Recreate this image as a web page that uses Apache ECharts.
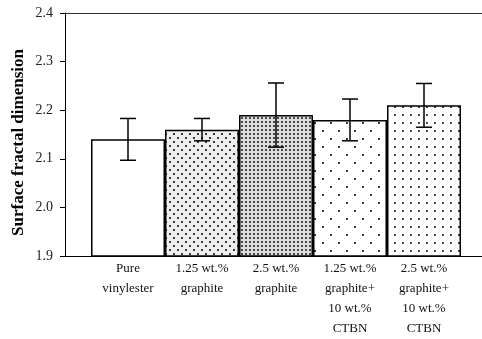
<!DOCTYPE html>
<html>
<head>
<meta charset="utf-8">
<script src="https://cdn.jsdelivr.net/npm/echarts@6/dist/echarts.min.js"></script>
<style>
  html, body { margin: 0; padding: 0; background: #fff; }
  #chart { width: 482px; height: 339px; }
</style>
</head>
<body>
<div id="chart"></div>
<script>
// Sample groups (multi-line category labels)
const categories = [
  'Pure\nvinylester',
  '1.25 wt.%\ngraphite',
  '2.5 wt.%\ngraphite',
  '1.25 wt.%\ngraphite+\n10 wt.%\nCTBN',
  '2.5 wt.%\ngraphite+\n10 wt.%\nCTBN'
];
// Mean surface fractal dimension and standard deviation
const fractalDim = [2.14, 2.16, 2.19, 2.18, 2.21];
const stdDev = [0.043, 0.023, 0.066, 0.043, 0.045];
const yTicks = [1.9, 2.0, 2.1, 2.2, 2.3, 2.4];

// Dot-fill patterns for each bar
function dotPattern(w, h, dots, size, color, bg) {
  const c = document.createElement('canvas');
  c.width = w; c.height = h;
  const g = c.getContext('2d');
  g.fillStyle = bg;
  g.fillRect(0, 0, w, h);
  g.fillStyle = color;
  dots.forEach(function (d) { g.fillRect(d[0], d[1], size, size); });
  return { image: c, repeat: 'repeat' };
}
const fills = [
  '#ffffff',
  dotPattern(8, 8, [[1, 1], [5, 5]], 2, '#3a3a3a', '#eeeeee'),
  dotPattern(4, 4, [[1, 1]], 2, '#4a4a4a', '#dddddd'),
  dotPattern(16, 16, [[2, 2], [10, 10]], 2, '#3a3a3a', '#ffffff'),
  dotPattern(8, 8, [[2, 2]], 2, '#4a4a4a', '#ffffff')
];

const font = '"Liberation Serif", "Times New Roman", serif';
const chart = echarts.init(document.getElementById('chart'), null, { renderer: 'canvas' });

chart.setOption({
  animation: false,
  backgroundColor: '#ffffff',
  grid: [
    { left: 65, right: 0, top: 13, bottom: 83 },
    { left: 91, width: 370, top: 13, bottom: 83 }
  ],
  xAxis: [
    { gridIndex: 0, type: 'value', min: 0, max: 1, position: 'bottom',
      axisLine: { show: true, lineStyle: { color: '#000', width: 1 } },
      axisTick: { show: false }, axisLabel: { show: false }, splitLine: { show: false } },
    { gridIndex: 0, type: 'value', min: 0, max: 1, position: 'top',
      axisLine: { show: true, lineStyle: { color: '#333', width: 1 } },
      axisTick: { show: false }, axisLabel: { show: false }, splitLine: { show: false } },
    { gridIndex: 1, type: 'category', data: categories,
      axisLine: { show: false }, axisTick: { show: false },
      axisLabel: { interval: 0, margin: 3, color: '#111', fontFamily: font, fontSize: 13, lineHeight: 20 } }
  ],
  yAxis: [
    { gridIndex: 0, type: 'value', min: yTicks[0], max: yTicks[yTicks.length - 1], interval: 0.1,
      axisLine: { show: true, lineStyle: { color: '#000', width: 1 } },
      axisTick: { show: true, inside: false, length: 5, lineStyle: { color: '#000' } },
      axisLabel: { margin: 12, color: '#222', fontFamily: font, fontSize: 14,
        formatter: function (v) { return v.toFixed(1); } },
      splitLine: { show: false } },
    // Value axis of the bar grid: carries only the axis title
    { gridIndex: 1, type: 'value', min: yTicks[0], max: yTicks[yTicks.length - 1],
      name: 'Surface fractal dimension', nameLocation: 'middle', nameRotate: 90, nameGap: 64,
      nameTextStyle: { fontFamily: font, fontSize: 17, fontWeight: 'bold', color: '#000',
        padding: [0, 16, 0, 0] },
      axisLine: { show: false }, axisTick: { show: false }, axisLabel: { show: false },
      splitLine: { show: false } }
  ],
  series: [
    {
      type: 'bar', xAxisIndex: 2, yAxisIndex: 1,
      barCategoryGap: 0,
      data: fractalDim.map(function (v, i) {
        return { value: v, itemStyle: { color: fills[i] } };
      }),
      itemStyle: { borderColor: '#000', borderWidth: 1.5 }
    },
    {
      type: 'custom', xAxisIndex: 2, yAxisIndex: 1, z: 10,
      data: fractalDim.map(function (v, i) { return [i, v - stdDev[i], v + stdDev[i]]; }),
      renderItem: function (params, api) {
        const lo = api.coord([api.value(0), api.value(1)]);
        const hi = api.coord([api.value(0), api.value(2)]);
        const hw = 8;
        const st = { stroke: '#000', lineWidth: 1.5 };
        return {
          type: 'group',
          children: [
            { type: 'line', shape: { x1: hi[0], y1: hi[1], x2: lo[0], y2: lo[1] }, style: st },
            { type: 'line', shape: { x1: hi[0] - hw, y1: hi[1], x2: hi[0] + hw, y2: hi[1] }, style: st },
            { type: 'line', shape: { x1: lo[0] - hw, y1: lo[1], x2: lo[0] + hw, y2: lo[1] }, style: st }
          ]
        };
      }
    }
  ]
});
</script>
</body>
</html>
